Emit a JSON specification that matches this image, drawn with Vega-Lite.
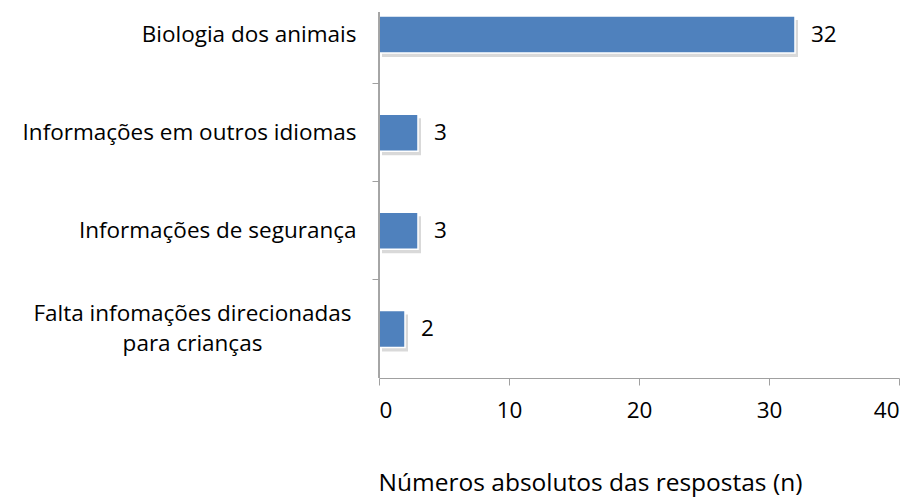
{
  "$schema": "https://vega.github.io/schema/vega-lite/v6.json",
  "width": 520,
  "height": 366,
  "autosize": {"type": "none"},
  "padding": {"left": 379, "top": 12, "right": 15, "bottom": 119},
  "background": "white",
  "config": {
    "view": {"stroke": null},
    "font": "Open Sans"
  },
  "data": {
    "values": [
      {"category": "Biologia dos animais", "n": 32},
      {"category": "Informações em outros idiomas", "n": 3},
      {"category": "Informações de segurança", "n": 3},
      {"category": "Falta infomações direcionadas|para crianças", "n": 2}
    ]
  },
  "encoding": {
    "y": {
      "field": "category",
      "type": "nominal",
      "sort": null,
      "scale": {"range": [-26.5, 366], "paddingInner": 0, "paddingOuter": 0},
      "axis": {
        "title": null,
        "domain": false,
        "bandPosition": 0,
        "tickColor": "#a0a0a0",
        "tickSize": 7,
        "labelFontSize": 22.5,
        "labelColor": "#000000",
        "labelPadding": {"condition": {"test": "indexof(datum.value, '|') >= 0", "value": 180}, "value": 16},
        "labelAlign": {"condition": {"test": "indexof(datum.value, '|') >= 0", "value": "center"}, "value": "right"},
        "labelOffset": {"condition": {"test": "indexof(datum.value, '|') >= 0", "value": -15}, "value": 0},
        "labelLimit": 400,
        "labelLineHeight": 30,
        "labelExpr": "split(datum.label, '|')"
      }
    },
    "x": {
      "field": "n",
      "type": "quantitative",
      "scale": {"domain": [0, 40], "nice": false},
      "axis": {
        "values": [0, 10, 20, 30, 40],
        "grid": false,
        "domainColor": "#a0a0a0",
        "tickColor": "#a0a0a0",
        "tickSize": 7,
        "labelFontSize": 22.5,
        "labelColor": "#000000",
        "labelPadding": 14,
        "title": "Números absolutos das respostas (n)",
        "titleFontSize": 24.5,
        "titleFontWeight": "normal",
        "titleColor": "#000000",
        "titlePadding": 50,
        "titleX": 211,
        "titleAnchor": "middle"
      }
    }
  },
  "layer": [
    {
      "mark": {"type": "bar", "size": 37, "color": "#000000", "opacity": 0.15, "xOffset": 3, "yOffset": 4}
    },
    {
      "mark": {"type": "bar", "size": 37, "color": "#4F81BD", "stroke": "white", "strokeWidth": 1.5}
    },
    {
      "mark": {"type": "text", "align": "left", "dx": 16, "fontSize": 22.5, "color": "#000000"},
      "encoding": {"text": {"field": "n", "type": "quantitative"}}
    },
    {
      "mark": {"type": "rule", "color": "#a0a0a0"},
      "encoding": {"x": {"datum": 0}, "y": null}
    }
  ]
}
